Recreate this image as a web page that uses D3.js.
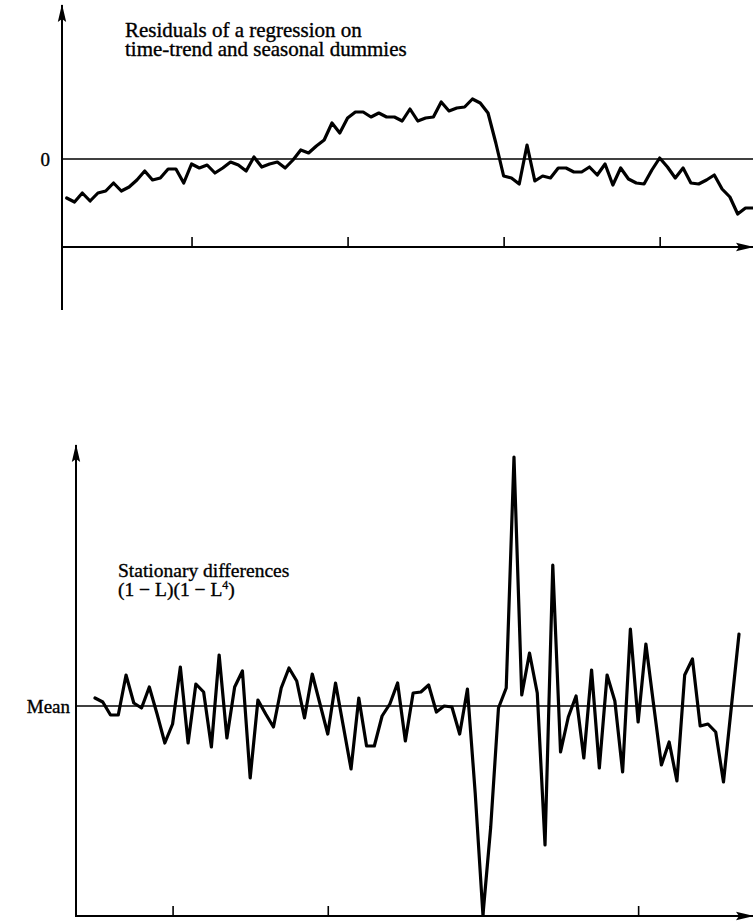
<!DOCTYPE html>
<html>
<head>
<meta charset="utf-8">
<script src="https://cdnjs.cloudflare.com/ajax/libs/d3/7.8.5/d3.min.js"></script>
<style>
  html, body { margin: 0; padding: 0; background: #fff; }
  svg { display: block; }
  text { font-family: "Liberation Serif", "DejaVu Serif", serif; font-size: 19px; fill: #000; stroke: #000; stroke-width: 0.35px; }
  text.title-top { font-size: 21px; }
  text.title-bottom { font-size: 19.5px; }
</style>
</head>
<body>
<div id="chart"></div>
<script>
// Residuals of a regression on time trend and seasonal dummies (quarterly, 89 obs)
const residuals = [
  -3.9, -4.3, -3.4, -4.2, -3.4, -3.2, -2.4, -3.2, -2.8, -2.1,
  -1.2, -2.1, -1.9, -1.0, -1.0, -2.4, -0.5, -0.9, -0.6, -1.4,
  -0.9, -0.3, -0.6, -1.2, 0.2, -0.8, -0.5, -0.3, -0.9, -0.1,
  0.9, 0.6, 1.3, 1.9, 3.6, 2.6, 4.1, 4.7, 4.7, 4.2,
  4.6, 4.2, 4.2, 3.8, 5.0, 3.8, 4.1, 4.2, 5.7, 4.8,
  5.1, 5.2, 6.0, 5.6, 4.6, 1.6, -1.7, -1.9, -2.5, 1.4,
  -2.2, -1.7, -1.9, -0.9, -0.9, -1.3, -1.3, -0.8, -1.6, -0.5,
  -2.6, -0.9, -2.0, -2.4, -2.5, -1.1, 0.1, -0.8, -1.9, -0.9,
  -2.4, -2.5, -2.1, -1.6, -3.0, -3.8, -5.5, -4.9, -4.9
];

// Stationary differences (1 - L)(1 - L^4), deviations from the mean (84 obs)
const differences = [
  0.8, 0.4, -0.9, -0.9, 3.1, 0.3, -0.2, 1.9, -0.8, -3.7,
  -1.8, 3.9, -3.7, 2.2, 1.4, -4.1, 5.1, -3.2, 1.9, 3.5,
  -7.2, 0.6, -0.8, -2.1, 1.8, 3.8, 2.5, -1.2, 3.2, 0.2,
  -2.8, 2.3, -2.0, -6.3, 0.8, -4.0, -4.0, -1.0, 0.2, 2.3,
  -3.5, 1.3, 1.4, 2.1, -0.6, 0.0, -0.1, -2.8, 1.7, -8.7,
  -20.9, -12.1, -0.2, 1.8, 24.9, 1.1, 5.3, 1.3, -13.9, 14.1,
  -4.6, -1.1, 1.0, -5.2, 3.6, -6.2, 3.1, 0.5, -6.6, 7.7,
  -1.6, 6.2, 0.1, -5.9, -3.6, -7.5, 3.1, 4.7, -2.0, -1.8,
  -2.6, -7.6, -0.2, 7.2
];

const topTicks = [16, 36, 56, 76];
const bottomTicks = [10, 30, 50, 70];
const topTitle = ["Residuals of a regression on", "time-trend and seasonal dummies"];
const bottomTitle = ["Stationary differences"];
const topZeroLabel = "0";
const bottomZeroLabel = "Mean";

const W = 753, H = 924;
const svg = d3.select("#chart").append("svg")
    .attr("width", W)
    .attr("height", H);

// arrow heads for the axes
svg.append("defs").append("marker")
    .attr("id", "arrow")
    .attr("viewBox", "0 -5 18 10")
    .attr("refX", 17)
    .attr("refY", 0)
    .attr("markerUnits", "userSpaceOnUse")
    .attr("markerWidth", 18)
    .attr("markerHeight", 10)
    .attr("orient", "auto")
    .append("path")
    .attr("d", "M0,-4.2L18,0L0,4.2L3,0Z")
    .attr("fill", "#000");

function drawPanel(o) {
    const g = svg.append("g");

    const x = d3.scaleLinear().domain([0, o.values.length - 1]).range(o.xRange);
    const y = d3.scaleLinear().domain(o.yDomain).range(o.yRange);

    // vertical axis with arrow
    g.append("line")
        .attr("x1", o.left).attr("x2", o.left)
        .attr("y1", o.yAxisEnd).attr("y2", o.yAxisTip)
        .attr("stroke", "#000")
        .attr("stroke-width", 2)
        .attr("marker-end", "url(#arrow)");

    // horizontal time axis with arrow
    g.append("line")
        .attr("x1", o.left).attr("x2", W)
        .attr("y1", y(o.baseValue)).attr("y2", y(o.baseValue))
        .attr("stroke", "#000")
        .attr("stroke-width", 2)
        .attr("marker-end", "url(#arrow)");

    // tick marks pointing up from the time axis
    g.append("g")
        .attr("transform", "translate(0," + y(o.baseValue) + ")")
        .call(d3.axisBottom(x).tickValues(o.ticks).tickSize(-10).tickFormat(""))
        .call(s => s.select(".domain").remove())
        .selectAll("line")
        .attr("stroke", "#000")
        .attr("stroke-width", 1.6);

    // zero / mean reference line
    g.append("line")
        .attr("x1", o.left).attr("x2", W)
        .attr("y1", y(0)).attr("y2", y(0))
        .attr("stroke", "#000")
        .attr("stroke-width", 1.6);

    // label on the reference line
    g.append("g")
        .attr("transform", "translate(" + o.left + ",0)")
        .call(d3.axisLeft(y).tickValues([0]).tickSize(0).tickPadding(o.labelPad).tickFormat(() => o.zeroLabel))
        .call(s => s.select(".domain").remove());

    // the series
    const line = d3.line()
        .x((d, i) => x(i))
        .y(d => y(d));

    g.append("path")
        .datum(o.values)
        .attr("d", line)
        .attr("fill", "none")
        .attr("stroke", "#000")
        .attr("stroke-width", 3.2)
        .attr("stroke-linejoin", "round")
        .attr("stroke-linecap", "round");

    return g;
}

// Top panel: residuals
const topPanel = drawPanel({
    values: residuals,
    xRange: [66.7, 753.3],
    yDomain: [-15, 15.4],
    yRange: [309, 5],
    left: 62,
    yAxisTip: 5,
    yAxisEnd: 310,
    baseValue: -8.8,
    ticks: topTicks,
    labelPad: 12,
    zeroLabel: topZeroLabel
});

topPanel.append("text")
    .attr("class", "title-top")
    .attr("x", 125)
    .attr("y", 37)
    .selectAll("tspan")
    .data(topTitle)
    .join("tspan")
    .attr("x", 125)
    .attr("dy", (d, i) => i === 0 ? 0 : 18.5)
    .text(d => d);

// Bottom panel: stationary differences
const bottomPanel = drawPanel({
    values: differences,
    xRange: [95, 739],
    yDomain: [-21, 26.1],
    yRange: [916, 445],
    left: 76,
    yAxisTip: 445,
    yAxisEnd: 917,
    baseValue: -21,
    ticks: bottomTicks,
    labelPad: 6,
    zeroLabel: bottomZeroLabel
});

bottomPanel.append("text")
    .attr("class", "title-bottom")
    .attr("x", 118)
    .attr("y", 577)
    .text(bottomTitle[0]);

const formula = bottomPanel.append("text")
    .attr("class", "title-bottom")
    .attr("x", 118)
    .attr("y", 596);
formula.append("tspan").text("(1 \u2212 L)(1 \u2212 L");
formula.append("tspan").attr("dy", -7).style("font-size", "12px").text("4");
formula.append("tspan").attr("dy", 7).text(")");
</script>
</body>
</html>
